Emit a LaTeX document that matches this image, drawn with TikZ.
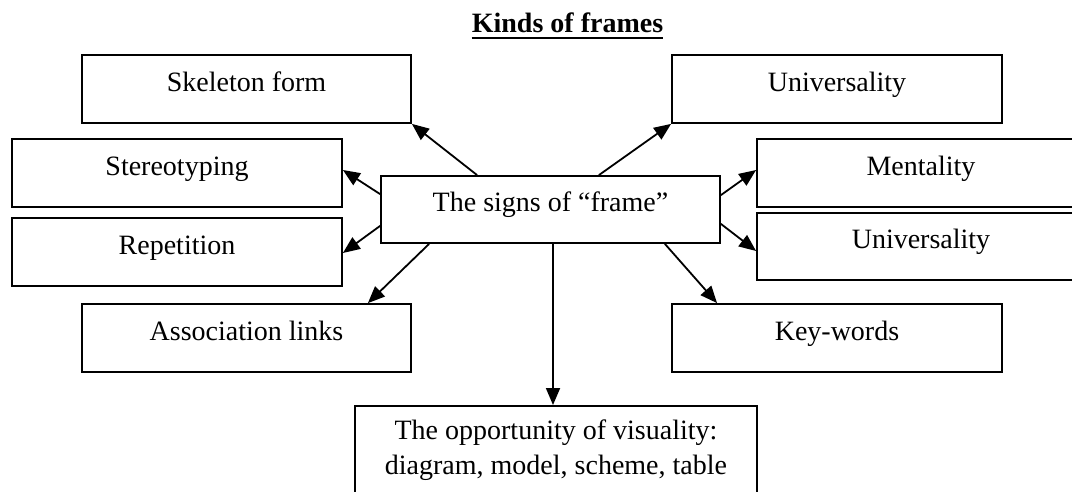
\documentclass[tikz,border=0pt]{standalone}
\usepackage{fontspec}
\setmainfont{Liberation Serif}
\usetikzlibrary{arrows.meta}
\begin{document}
\begin{tikzpicture}[x=1pt,y=-1pt,
  box/.style={draw,line width=1.8pt,inner sep=0pt,minimum height=68pt,
    text height=20pt,text depth=16pt,font=\fontsize{28}{35}\selectfont},
  link/.style={line width=1.8pt,-{Triangle[length=17pt,width=14pt]}}]
\useasboundingbox (0,0) rectangle (1072,491);

% heading
\node[anchor=base,inner sep=0pt,font=\fontsize{28}{35}\selectfont\bfseries]
  (title) at (567.5,32) {Kinds of frames};
\draw[line width=2pt] ([yshift=-6pt]title.base west) -- ([yshift=-6pt]title.base east);

% left column
\node[box,minimum width=329pt] (skel)   at (246.5,89)  {Skeleton form};
\node[box,minimum width=330pt] (stereo) at (177,173)   {Stereotyping};
\node[box,minimum width=330pt] (rep)    at (177,252)   {Repetition};
\node[box,minimum width=329pt] (assoc)  at (246.5,338) {Association links};

% right column
\node[box,minimum width=330pt] (univa)  at (837,89)    {Universality};
\node[box,minimum width=328pt] (ment)   at (921,173)   {Mentality};
\node[box,minimum width=328pt,minimum height=67pt] (univb) at (921,246.5) {Universality};
\node[box,minimum width=330pt] (key)    at (837,338)   {Key-words};

% centre
\node[box,minimum width=339pt,minimum height=67pt] (sign) at (550.5,209.5) {The signs of “frame”};

% bottom
\node[draw,line width=1.8pt,anchor=north,inner xsep=0pt,inner ysep=14pt,
  minimum width=402pt,align=center,text depth=90pt,
  font=\fontsize{28}{35}\selectfont] (opp) at (556,405)
  {The opportunity of visuality:\\diagram, model, scheme, table};

% connectors
\draw[link] ([xshift=97pt]sign.north west) -- (skel.south east);
\draw[link] ([xshift=-122pt]sign.north east) -- (univa.south west);
\draw[link] ([yshift=-19pt]sign.north west) -- ([yshift=3pt]stereo.east);
\draw[link] ([yshift=18pt]sign.south west) -- ([yshift=-1pt]rep.east);
\draw[link] ([xshift=49pt]sign.south west) -- ([xshift=-44pt]assoc.north east);
\draw[link] ([yshift=-20pt]sign.north east) -- ([yshift=3pt]ment.west);
\draw[link] ([yshift=20pt]sign.south east) -- ([yshift=-4.5pt]univb.west);
\draw[link] ([xshift=-56pt]sign.south east) -- ([xshift=46pt]key.north west);
\draw[link] ([xshift=2.5pt]sign.south) -- ([xshift=2.5pt]sign.south |- opp.north);
\end{tikzpicture}
\end{document}
